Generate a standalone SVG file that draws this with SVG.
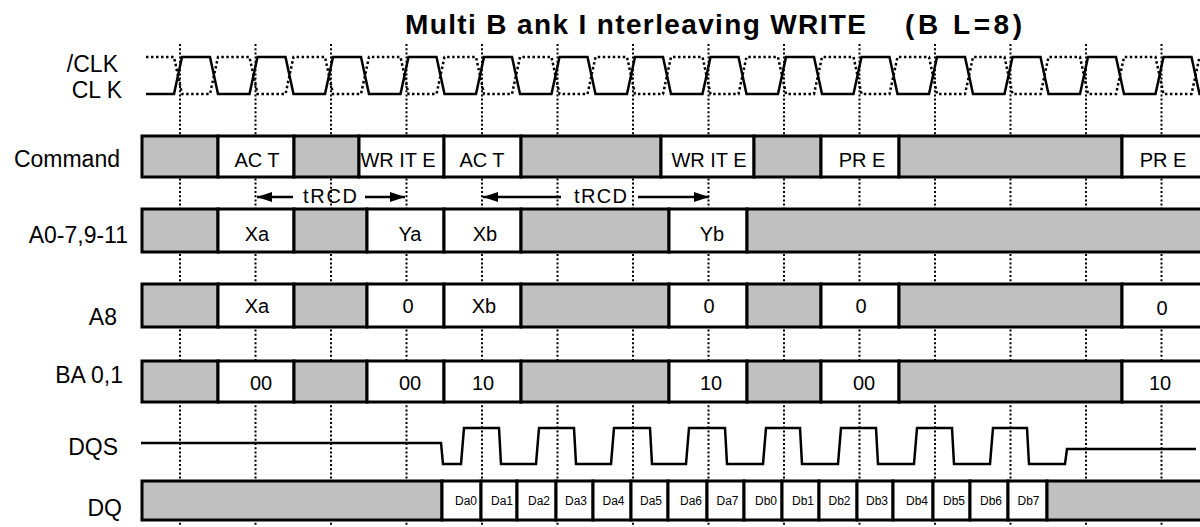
<svg xmlns="http://www.w3.org/2000/svg" width="1200" height="527" viewBox="0 0 1200 527">
<style>
.lbl{font-family:"Liberation Sans",Arial,sans-serif;font-size:23px;fill:#000;text-anchor:end}
.t{font-family:"Liberation Sans",Arial,sans-serif;font-size:20px;fill:#000;text-anchor:middle}
.d{font-family:"Liberation Sans",Arial,sans-serif;font-size:12px;fill:#000;text-anchor:middle}
.ttl{font-family:"Liberation Sans",Arial,sans-serif;font-size:28px;font-weight:bold;fill:#000}
.g{fill:#c0c0c0;stroke:#000;stroke-width:3}
.w{fill:#fff;stroke:#000;stroke-width:3}
.dot{stroke:#000;stroke-width:2;stroke-dasharray:2 2.2;fill:none}
.wave{fill:none;stroke:#000;stroke-width:2.5;stroke-linejoin:miter}
.wavedot{fill:none;stroke:#000;stroke-width:2.5;stroke-dasharray:2.5 2.5}
.arr{stroke:#000;stroke-width:2.5;fill:none}
</style>
<defs>
<marker id="ah" viewBox="0 0 15 10" refX="15" refY="5" markerWidth="15" markerHeight="10" markerUnits="userSpaceOnUse" orient="auto-start-reverse">
<path d="M0,0 L15,5 L0,10 z" fill="#000"/>
</marker>
</defs>
<rect width="1200" height="527" fill="#fff"/>
<g id="title">
<text class="ttl" x="405" y="34" textLength="461" lengthAdjust="spacing">Multi B ank I nterleaving WRITE</text>
<text class="ttl" x="905" y="34" textLength="117" lengthAdjust="spacing">(B L=8)</text>
</g>
<g id="gridlines">
<path class="dot" d="M180,44V527 M255.5,44V527 M331,44V527 M406.5,44V527 M482,44V527 M557.5,44V527 M633,44V527 M708.5,44V527 M784,44V527 M859.5,44V527 M935,44V527 M1010.5,44V527 M1086,44V527 M1161.5,44V527"/>
</g>
<g id="clock">
<text class="lbl" x="118" y="72">/CLK</text>
<text class="lbl" x="122" y="98">CL K</text>
<path class="wavedot" d="M146,57 L174,57 L182,94 L210,94 L218,57 L249.5,57 L257.5,94 L285.5,94 L293.5,57 L325,57 L333,94 L361,94 L369,57 L400.5,57 L408.5,94 L436.5,94 L444.5,57 L476,57 L484,94 L512,94 L520,57 L551.5,57 L559.5,94 L587.5,94 L595.5,57 L627,57 L635,94 L663,94 L671,57 L702.5,57 L710.5,94 L738.5,94 L746.5,57 L778,57 L786,94 L814,94 L822,57 L853.5,57 L861.5,94 L889.5,94 L897.5,57 L929,57 L937,94 L965,94 L973,57 L1004.5,57 L1012.5,94 L1040.5,94 L1048.5,57 L1080,57 L1088,94 L1116,94 L1124,57 L1155.5,57 L1163.5,94 L1191.5,94 L1199.5,57 L1205,57"/>
<path class="wave" d="M146,94 L174,94 L182,57 L210,57 L218,94 L249.5,94 L257.5,57 L285.5,57 L293.5,94 L325,94 L333,57 L361,57 L369,94 L400.5,94 L408.5,57 L436.5,57 L444.5,94 L476,94 L484,57 L512,57 L520,94 L551.5,94 L559.5,57 L587.5,57 L595.5,94 L627,94 L635,57 L663,57 L671,94 L702.5,94 L710.5,57 L738.5,57 L746.5,94 L778,94 L786,57 L814,57 L822,94 L853.5,94 L861.5,57 L889.5,57 L897.5,94 L929,94 L937,57 L965,57 L973,94 L1004.5,94 L1012.5,57 L1040.5,57 L1048.5,94 L1080,94 L1088,57 L1116,57 L1124,94 L1155.5,94 L1163.5,57 L1191.5,57 L1199.5,94 L1205,94"/>
</g>
<g id="command">
<text class="lbl" x="120" y="167">Command</text>
<rect class="g" x="142" y="136" width="76" height="41"/>
<rect class="w" x="218" y="136" width="76" height="41"/>
<rect class="g" x="294" y="136" width="65" height="41"/>
<rect class="w" x="359" y="136" width="85" height="41"/>
<rect class="w" x="444" y="136" width="77" height="41"/>
<rect class="g" x="521" y="136" width="140" height="41"/>
<rect class="w" x="661" y="136" width="93" height="41"/>
<rect class="g" x="754" y="136" width="67" height="41"/>
<rect class="w" x="821" y="136" width="78" height="41"/>
<rect class="g" x="899" y="136" width="223" height="41"/>
<rect class="w" x="1122" y="136" width="82" height="41"/>
<text class="t" x="257" y="167">AC T</text>
<text class="t" x="398" y="167">WR IT E</text>
<text class="t" x="482" y="167">AC T</text>
<text class="t" x="709" y="167">WR IT E</text>
<text class="t" x="862" y="167">PR E</text>
<text class="t" x="1163" y="167">PR E</text>
</g>
<g id="addr">
<text class="lbl" x="128" y="243">A0-7,9-11</text>
<rect class="g" x="142" y="209" width="76" height="43"/>
<rect class="w" x="218" y="209" width="76" height="43"/>
<rect class="g" x="294" y="209" width="73" height="43"/>
<rect class="w" x="367" y="209" width="77" height="43"/>
<rect class="w" x="444" y="209" width="77" height="43"/>
<rect class="g" x="521" y="209" width="148" height="43"/>
<rect class="w" x="669" y="209" width="78" height="43"/>
<rect class="g" x="747" y="209" width="457" height="43"/>
<text class="t" x="257" y="241">Xa</text>
<text class="t" x="410" y="241">Ya</text>
<text class="t" x="485" y="241">Xb</text>
<text class="t" x="712" y="241">Yb</text>
</g>
<g id="a8">
<text class="lbl" x="117" y="325">A8</text>
<rect class="g" x="142" y="284" width="76" height="43"/>
<rect class="w" x="218" y="284" width="76" height="43"/>
<rect class="g" x="294" y="284" width="73" height="43"/>
<rect class="w" x="367" y="284" width="77" height="43"/>
<rect class="w" x="444" y="284" width="77" height="43"/>
<rect class="g" x="521" y="284" width="148" height="43"/>
<rect class="w" x="669" y="284" width="78" height="43"/>
<rect class="g" x="747" y="284" width="74" height="43"/>
<rect class="w" x="821" y="284" width="78" height="43"/>
<rect class="g" x="899" y="284" width="223" height="43"/>
<rect class="w" x="1122" y="284" width="82" height="43"/>
<text class="t" x="257" y="313">Xa</text>
<text class="t" x="408" y="313">0</text>
<text class="t" x="484" y="313">Xb</text>
<text class="t" x="709" y="313">0</text>
<text class="t" x="861" y="313">0</text>
<text class="t" x="1162" y="315">0</text>
</g>
<g id="ba">
<text class="lbl" x="123" y="383">BA 0,1</text>
<rect class="g" x="142" y="361" width="76" height="41"/>
<rect class="w" x="218" y="361" width="76" height="41"/>
<rect class="g" x="294" y="361" width="73" height="41"/>
<rect class="w" x="367" y="361" width="77" height="41"/>
<rect class="w" x="444" y="361" width="77" height="41"/>
<rect class="g" x="521" y="361" width="148" height="41"/>
<rect class="w" x="669" y="361" width="78" height="41"/>
<rect class="g" x="747" y="361" width="74" height="41"/>
<rect class="w" x="821" y="361" width="78" height="41"/>
<rect class="g" x="899" y="361" width="223" height="41"/>
<rect class="w" x="1122" y="361" width="82" height="41"/>
<text class="t" x="261" y="390">00</text>
<text class="t" x="410" y="390">00</text>
<text class="t" x="483" y="390">10</text>
<text class="t" x="711" y="390">10</text>
<text class="t" x="864" y="390">00</text>
<text class="t" x="1160" y="390">10</text>
</g>
<g id="dqs">
<text class="lbl" x="118" y="455">DQS</text>
<path class="wave" d="M141,443 L441,443 L443,464 L461,464 L464,428 L499,428 L501,464 L536,464 L539,428 L574,428 L576,464 L611,464 L614,428 L650,428 L652,464 L686,464 L689,428 L725,428 L727,464 L763,464 L766,428 L800,428 L802,464 L838,464 L841,428 L876,428 L878,464 L914,464 L917,428 L952,428 L954,464 L990,464 L993,428 L1027,428 L1029,464 L1065,464 L1067,449 L1196,449"/>
</g>
<g id="dq">
<text class="lbl" x="122" y="516">DQ</text>
<rect class="g" x="142" y="481" width="300" height="39"/>
<rect class="w" x="442" y="481" width="39" height="39"/>
<rect class="w" x="481" y="481" width="36" height="39"/>
<rect class="w" x="517" y="481" width="39" height="39"/>
<rect class="w" x="556" y="481" width="37" height="39"/>
<rect class="w" x="593" y="481" width="38" height="39"/>
<rect class="w" x="631" y="481" width="37" height="39"/>
<rect class="w" x="668" y="481" width="39" height="39"/>
<rect class="w" x="707" y="481" width="37" height="39"/>
<rect class="w" x="744" y="481" width="38" height="39"/>
<rect class="w" x="782" y="481" width="37" height="39"/>
<rect class="w" x="819" y="481" width="38" height="39"/>
<rect class="w" x="857" y="481" width="36" height="39"/>
<rect class="w" x="893" y="481" width="40" height="39"/>
<rect class="w" x="933" y="481" width="37" height="39"/>
<rect class="w" x="970" y="481" width="38" height="39"/>
<rect class="w" x="1008" y="481" width="39" height="39"/>
<rect class="g" x="1047" y="481" width="157" height="39"/>
<text class="d" x="466" y="504.5">Da0</text>
<text class="d" x="502" y="504.5">Da1</text>
<text class="d" x="539" y="504.5">Da2</text>
<text class="d" x="576" y="504.5">Da3</text>
<text class="d" x="613.5" y="504.5">Da4</text>
<text class="d" x="651" y="504.5">Da5</text>
<text class="d" x="691" y="504.5">Da6</text>
<text class="d" x="727.5" y="504.5">Da7</text>
<text class="d" x="766" y="504.5">Db0</text>
<text class="d" x="803" y="504.5">Db1</text>
<text class="d" x="839.5" y="504.5">Db2</text>
<text class="d" x="877" y="504.5">Db3</text>
<text class="d" x="917" y="504.5">Db4</text>
<text class="d" x="954" y="504.5">Db5</text>
<text class="d" x="991" y="504.5">Db6</text>
<text class="d" x="1028.5" y="504.5">Db7</text>
</g>
<g id="connectors">
<line class="arr" x1="257" y1="197" x2="293" y2="197" marker-start="url(#ah)"/>
<line class="arr" x1="365" y1="197" x2="405" y2="197" marker-end="url(#ah)"/>
<line class="arr" x1="483" y1="197" x2="561" y2="197" marker-start="url(#ah)"/>
<line class="arr" x1="638" y1="197" x2="709" y2="197" marker-end="url(#ah)"/>
<text class="t" x="303" y="203" style="text-anchor:start" textLength="54" lengthAdjust="spacing">tRCD</text>
<text class="t" x="574" y="203" style="text-anchor:start" textLength="53" lengthAdjust="spacing">tRCD</text>
</g>
</svg>
